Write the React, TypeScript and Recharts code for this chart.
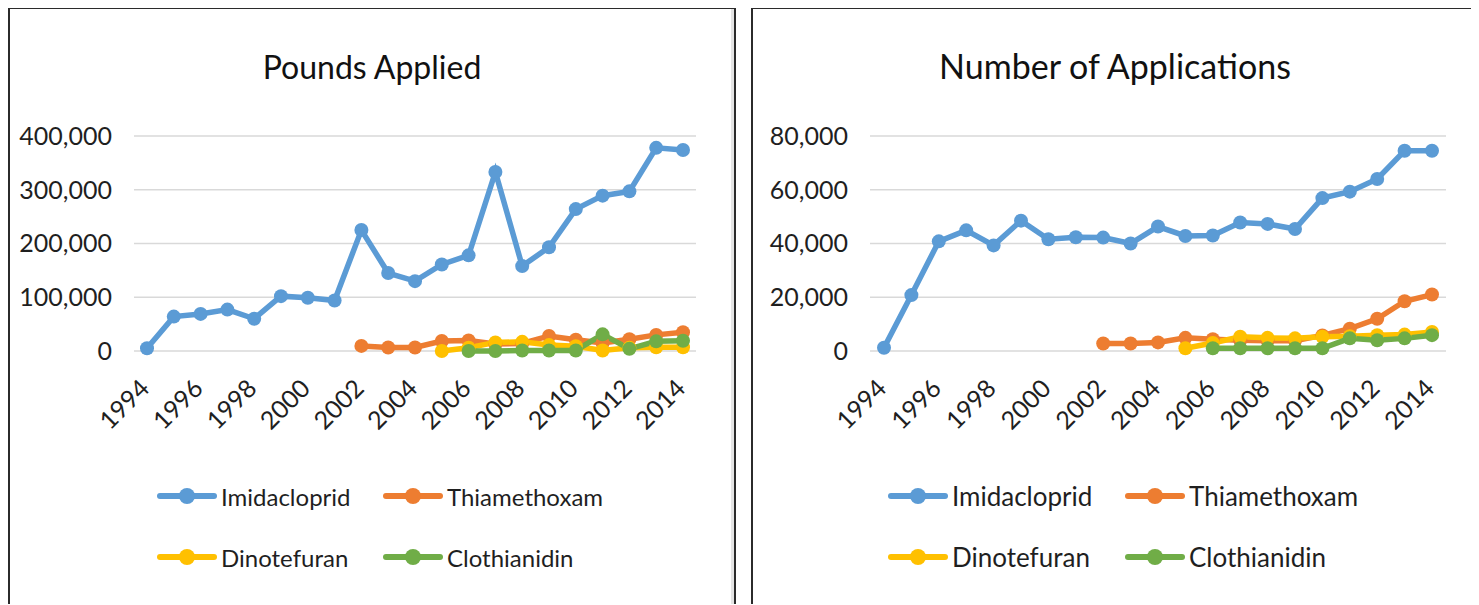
import { LineChart, Line, XAxis, YAxis, CartesianGrid, Legend } from "recharts";

const years = [
  "1994", "1995", "1996", "1997", "1998", "1999", "2000", "2001", "2002", "2003", "2004",
  "2005", "2006", "2007", "2008", "2009", "2010", "2011", "2012", "2013", "2014",
];

const seriesNames = ["Imidacloprid", "Thiamethoxam", "Dinotefuran", "Clothianidin"];
const seriesColors = ["#5B9BD5", "#ED7D31", "#FFC000", "#70AD47"];
// first year with data for each series
const seriesStart = ["1994", "2002", "2005", "2006"];

// Pounds applied
const poundsImidacloprid = [
  5000, 64000, 69000, 77000, 60000, 102000, 99000, 94000, 225000, 145000, 130000,
  161000, 178000, 333000, 158000, 193000, 264000, 289000, 297000, 378000, 374000,
];
const poundsThiamethoxam = [9500, 6500, 6500, 18500, 19500, 13000, 14000, 28000, 21000, 15000, 22000, 30000, 35000];
const poundsDinotefuran = [0, 6000, 16000, 17000, 11000, 9000, 1000, 6000, 7000, 7000];
const poundsClothianidin = [0, 0, 1000, 1000, 1000, 31000, 4000, 18000, 19000];
const poundsTicks = [0, 100000, 200000, 300000, 400000];

// Number of applications
const appsImidacloprid = [
  1200, 20800, 40800, 44900, 39300, 48500, 41600, 42300, 42200, 40000, 46300,
  42800, 43000, 47800, 47300, 45400, 56900, 59300, 64000, 74500, 74500,
];
const appsThiamethoxam = [2800, 2800, 3200, 4900, 4400, 4000, 3800, 3800, 5800, 8300, 12000, 18500, 21000];
const appsDinotefuran = [1000, 3000, 5300, 4900, 4700, 5300, 5500, 5900, 6100, 7100];
const appsClothianidin = [1000, 1000, 1000, 1000, 1000, 4700, 4000, 4700, 5900];
const appsTicks = [0, 20000, 40000, 60000, 80000];

const font = "Lato, 'Open Sans', sans-serif";
const textColor = "#1f1f1f";

function buildRows(series: number[][]) {
  return years.map((year, i) => {
    const row: Record<string, string | number | null> = { year };
    series.forEach((values, s) => {
      const offset = years.indexOf(seriesStart[s]);
      const v = i - offset;
      row[seriesNames[s]] = v >= 0 && v < values.length ? values[v] : null;
    });
    return row;
  });
}

const poundsData = buildRows([poundsImidacloprid, poundsThiamethoxam, poundsDinotefuran, poundsClothianidin]);
const appsData = buildRows([appsImidacloprid, appsThiamethoxam, appsDinotefuran, appsClothianidin]);

function YearTick(props: any) {
  const { x, y, payload } = props;
  return (
    <g transform={`translate(${x + 4},${y + 39})`}>
      <text textAnchor="end" transform="rotate(-45)" fontSize={25} fill={textColor} fontFamily={font}>
        {payload.value}
      </text>
    </g>
  );
}

function LegendGrid({ col1, col2, fontSize }: { col1: number; col2: number; fontSize: number }) {
  const rows = [22, 83];
  return (
    <div style={{ position: "relative", width: 724, height: 110 }}>
      {seriesNames.map((name, i) => (
        <div
          key={name}
          style={{
            position: "absolute",
            left: i % 2 === 0 ? col1 : col2,
            top: rows[Math.floor(i / 2)] - 16,
            height: 32,
            display: "flex",
            alignItems: "center",
            fontFamily: font,
            fontSize,
            color: textColor,
            whiteSpace: "nowrap",
          }}
        >
          <svg width={60} height={20}>
            <line x1={3} y1={10} x2={57} y2={10} stroke={seriesColors[i]} strokeWidth={6} strokeLinecap="round" />
            <circle cx={30} cy={10} r={8} fill={seriesColors[i]} />
          </svg>
          <span style={{ marginLeft: 4 }}>{name}</span>
        </div>
      ))}
    </div>
  );
}

interface PanelProps {
  title: string;
  titleSize: number;
  data: Record<string, string | number | null>[];
  ticks: number[];
  yWidth: number;
  rightMargin: number;
  xPad: number;
  legendCol1: number;
  legendCol2: number;
  legendFont: number;
}

function Panel(p: PanelProps) {
  return (
    <div
      style={{
        position: "relative",
        width: 724,
        height: 595,
        border: "2px solid #2b2b2b",
        borderBottom: "none",
        boxShadow: "inset -3px 0 0 #e4e4e4",
        background: "#fff",
      }}
    >
      <div
        style={{
          position: "absolute",
          top: 70 - Math.round(p.titleSize * 0.89),
          left: 0,
          width: 724,
          textAlign: "center",
          fontFamily: font,
          fontSize: p.titleSize,
          lineHeight: 1,
          color: "#111",
        }}
      >
        {p.title}
      </div>
      <LineChart
        width={724}
        height={590}
        data={p.data}
        margin={{ top: 127, right: p.rightMargin, bottom: 188, left: 0 }}
      >
        <CartesianGrid vertical={false} stroke="#d9d9d9" strokeWidth={1.5} />
        <XAxis
          dataKey="year"
          interval={1}
          axisLine={false}
          tickLine={false}
          tickSize={0}
          tickMargin={0}
          height={60}
          padding={{ left: p.xPad, right: p.xPad }}
          tick={<YearTick />}
        />
        <YAxis
          width={p.yWidth}
          domain={[0, p.ticks[p.ticks.length - 1]]}
          ticks={p.ticks}
          axisLine={false}
          tickLine={false}
          tickMargin={16}
          tick={{ fontSize: 25, fill: textColor, fontFamily: font }}
          tickFormatter={(v: number) => v.toLocaleString("en-US")}
        />
        <Legend
          verticalAlign="middle"
          align="center"
          layout="horizontal"
          wrapperStyle={{ top: 465, left: 0, width: 724 }}
          content={() => <LegendGrid col1={p.legendCol1} col2={p.legendCol2} fontSize={p.legendFont} />}
        />
        {seriesNames.map((name, i) => (
          <Line
            key={name}
            dataKey={name}
            stroke={seriesColors[i]}
            strokeWidth={5.5}
            dot={{ r: 7, fill: seriesColors[i], stroke: seriesColors[i], strokeWidth: 0 }}
            activeDot={false}
            isAnimationActive={false}
          />
        ))}
      </LineChart>
    </div>
  );
}

export default function App() {
  return (
    <div style={{ display: "flex", gap: 15, marginTop: -1 }}>
      <Panel
        title="Pounds Applied"
        titleSize={32}
        data={poundsData}
        ticks={poundsTicks}
        yWidth={124}
        rightMargin={38}
        xPad={13}
        legendCol1={147}
        legendCol2={373}
        legendFont={24}
      />
      <Panel
        title="Number of Applications"
        titleSize={34}
        data={appsData}
        ticks={appsTicks}
        yWidth={117}
        rightMargin={31}
        xPad={14}
        legendCol1={135}
        legendCol2={372}
        legendFont={26}
      />
    </div>
  );
}
